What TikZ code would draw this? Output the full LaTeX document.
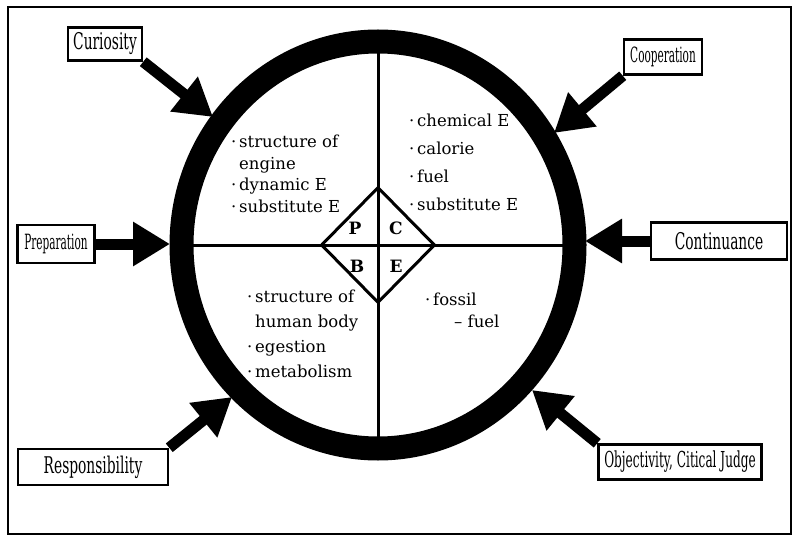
\documentclass[tikz,border=0pt]{standalone}
\usepackage{fontspec}
\setmainfont{DejaVu Serif}
\usetikzlibrary{arrows.meta,shapes.geometric,backgrounds}

\tikzset{
  tag/.style={draw, line width=2.5pt, fill=white, inner sep=0pt},
  push/.style={line width=11pt, -{Triangle[length=37pt,width=42pt]}},
  item/.style={anchor=north west, inner sep=0pt, align=left,
    font=\fontsize{16.5}{21.5}\selectfont},
  letter/.style={font=\fontsize{17}{17}\selectfont\bfseries}
}
\newcommand{\narrow}[3][0.6]{{\fontsize{#2}{#2}\selectfont\scalebox{#1}[1]{#3}}}
\newcommand{\dotitem}{\textperiodcentered\,}
\newcommand{\hangitem}{\phantom{\dotitem}}

\begin{document}
\begin{tikzpicture}[x=1pt, y=-1pt]
\useasboundingbox (0,0) rectangle (794,537);
\def\cx{378}
\def\cy{245}

\draw[line width=2.5pt] (8,7) rectangle (791,534);

% cross, diamond and ring
\coordinate (o) at (\cx,\cy);
\draw[line width=3pt] (\cx,\cy-195) -- (\cx,\cy+195);
\draw[line width=3pt] (\cx-190,\cy) -- (\cx+190,\cy);
\node[diamond, draw, line width=3pt, minimum width=114pt, minimum height=116pt, inner sep=0pt] (pcbe) at (o) {};
\draw[line width=24pt] (o) ellipse [x radius=196.5, y radius=203.5];

\node[letter] (p) at (\cx-23,\cy-17) {P};
\node[letter] (c) at (\cx+18,\cy-17) {C};
\node[letter] (b) at (\cx-21,\cy+21) {B};
\node[letter] (e) at (\cx+18,\cy+21) {E};

% quadrant contents
\node[item] (engine) at (231,135) {\dotitem structure of\\ \hangitem engine\\ \dotitem dynamic E\\ \dotitem substitute E};
\node[item, font=\fontsize{16.5}{28}\selectfont] (chem) at (409,114) {\dotitem chemical E\\ \dotitem calorie\\ \dotitem fuel\\ \dotitem substitute E};
\node[item, font=\fontsize{16.5}{25}\selectfont] (body) at (247,290) {\dotitem structure of\\ \hangitem human body\\ \dotitem egestion\\ \dotitem metabolism};
\node[item, font=\fontsize{16.5}{22}\selectfont] (fossil) at (425,293) {\dotitem fossil\\ \hspace{29pt}-- fuel};

% attitudes
\node[tag, minimum width=74pt, minimum height=33pt] (cur) at (105,44) {\narrow{23}{Curiosity}};
\node[tag, minimum width=78pt, minimum height=35pt] (coop) at (663,57) {\narrow[0.5]{21}{Cooperation}};
\node[tag, minimum width=77pt, minimum height=38pt] (prep) at (56,244) {\narrow[0.5]{21}{Preparation}};
\node[tag, minimum width=136pt, minimum height=37pt] (cont) at (719,241) {\narrow{23}{Continuance}};
\node[tag, minimum width=150pt, minimum height=36pt] (resp) at (93,467) {\narrow{23}{Responsibility}};
\node[tag, minimum width=163pt, minimum height=35pt] (obj) at (680,462) {\narrow[0.55]{22}{Objectivity, Citical Judge}};

\coordinate (curtip) at (213,117);
\coordinate (cooptip) at (554,133);
\coordinate (preptip) at (170,244);
\coordinate (conttip) at (585,241);
\coordinate (resptip) at (232,397);
\coordinate (objtip) at (532,390);

\begin{scope}[on background layer]
\draw[push] (cur.south east) -- (curtip);
\draw[push] (coop.south west) -- (cooptip);
\draw[push] (prep) -- (preptip);
\draw[push] (cont) -- (conttip);
\draw[push] (resp.north east) -- (resptip);
\draw[push] (obj.north west) -- (objtip);
\end{scope}
\end{tikzpicture}
\end{document}
